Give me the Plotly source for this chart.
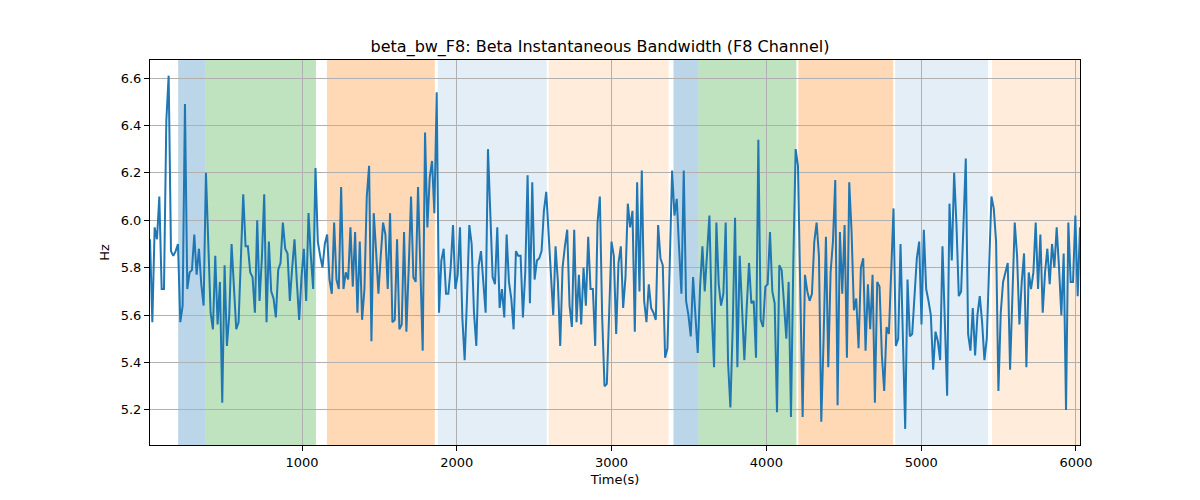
import numpy as np
import plotly.graph_objects as go

# ---- data ----
seg1 = [5.92, 5.57, 5.97, 5.92, 6.10, 5.71, 5.71, 6.42, 6.61, 5.87, 5.85, 5.87, 5.90, 5.57, 5.64, 6.49, 5.71,
        5.78, 5.79, 5.94, 5.77, 5.88, 5.73, 5.64, 6.20, 5.91, 5.61, 5.54, 5.85, 5.56, 5.74, 5.23, 5.81, 5.47,
        5.60, 5.90, 5.74, 5.54, 5.57, 5.83, 6.11, 5.89, 5.89, 5.78, 5.76, 5.61, 6.00, 5.66, 5.84, 6.11, 5.57]
seg2 = [5.91, 5.70, 5.67, 5.59, 5.79, 5.82, 5.99, 5.88, 5.86, 5.66, 5.80, 5.92, 5.74, 5.58, 5.76, 5.88, 5.66,
        6.03, 5.85, 5.71, 6.22, 5.91, 5.85, 5.80, 5.90, 5.94, 5.75, 5.69, 5.99, 5.75, 5.71, 6.14, 5.71, 5.78,
        5.75, 5.97, 5.72, 5.95, 5.61, 5.91, 5.58, 5.71, 6.10, 6.23, 5.49, 6.03, 5.87, 5.69, 5.85, 5.99]
seg3 = [5.94, 5.71, 6.03, 5.57, 5.58, 5.92, 5.54, 5.56, 5.95, 5.53, 5.80, 6.10, 5.76, 5.74, 6.14, 5.74, 5.45,
        6.37, 5.97, 6.18, 6.25, 6.03, 6.54, 5.61, 5.83, 5.88, 5.69, 5.69, 5.80, 5.98, 5.71, 5.77, 5.97, 5.59,
        5.41, 5.67, 5.98, 5.90, 5.61, 5.47, 5.81, 5.87, 5.74, 5.61, 6.30, 5.98, 5.76, 5.73, 5.97, 5.63]
seg4 = [5.71, 5.59, 5.94, 5.74, 5.67, 5.54, 5.87, 5.85, 5.85, 5.59, 5.78, 6.19, 5.65, 6.16, 5.75, 5.83, 5.84,
        5.87, 6.04, 6.12, 5.95, 5.74, 5.60, 5.89, 5.74, 5.47, 5.80, 5.89, 5.96, 5.64, 5.55, 5.96, 5.57, 5.77,
        5.56, 5.80, 5.64, 5.93, 5.71, 5.71, 5.47, 5.99, 6.10, 5.59, 5.30, 5.31, 5.63, 5.91, 5.85, 5.52]
seg5 = [5.82, 5.89, 5.63, 5.76, 6.07, 5.97, 6.04, 5.53, 6.16, 5.70, 6.21, 5.66, 5.57, 5.73, 5.63, 5.61, 5.58,
        5.98, 5.84, 5.81, 5.42, 5.46, 5.82, 6.21, 6.02, 6.09, 5.88, 5.69, 6.21, 5.66, 5.60, 5.51, 5.76, 5.61,
        5.44, 5.72, 5.89, 5.70, 5.85, 6.02, 5.61, 5.38, 5.99, 5.73, 5.64, 5.69, 5.99, 5.40, 5.21, 5.55]
seg6 = [6.01, 5.38, 5.85, 5.63, 5.41, 5.63, 5.82, 5.65, 5.66, 5.42, 6.34, 5.58, 5.55, 5.72, 5.73, 5.95, 5.70,
        5.65, 5.19, 5.81, 5.79, 5.65, 5.50, 5.74, 5.17, 5.82, 6.30, 6.23, 5.71, 5.17, 5.77, 5.70, 5.66, 5.69,
        5.91, 5.99, 5.85, 5.15, 5.50, 5.93, 5.38, 5.78, 5.91, 6.17, 5.22, 5.95, 5.69, 5.98, 5.42, 6.16]
seg7 = [5.95, 5.62, 5.67, 5.46, 5.80, 5.84, 5.45, 5.73, 5.54, 5.77, 5.23, 5.74, 5.72, 5.43, 5.28, 5.55, 5.52,
        5.77, 6.05, 5.47, 5.50, 5.90, 5.50, 5.12, 5.75, 5.51, 5.52, 5.71, 5.84, 5.91, 5.56, 5.96, 5.71, 5.66,
        5.60, 5.37, 5.53, 5.49, 5.41, 5.89, 5.57, 5.26, 6.07, 5.83, 6.20, 5.98, 5.68, 5.70, 5.98, 6.26, 5.52]
seg8 = [5.45, 5.63, 5.43, 5.60, 5.68, 5.57, 5.41, 5.50, 5.81, 6.10, 6.05, 5.91, 5.28, 5.61, 5.74, 5.78, 5.82,
        5.37, 5.69, 5.99, 5.85, 5.56, 5.74, 5.86, 5.38, 5.78, 5.71, 5.78, 5.99, 5.71, 5.94, 5.61, 5.78, 5.88,
        5.73, 5.90, 5.80, 5.97, 5.80, 5.60, 5.86, 5.20, 5.99, 5.74, 5.74, 6.02, 5.68, 5.97]

T_START = 18
T_END = 6026

band_starts = [200, 374, 1161, 1877, 2594, 3400, 3561, 4206, 4832, 5458]
band_ends = [374, 1090, 1858, 2581, 3368, 3561, 4194, 4819, 5432, 6026]
band_colors = ["rgba(31,119,180,0.3)", "rgba(44,160,44,0.3)", "rgba(255,127,14,0.3)",
               "rgba(31,119,180,0.12)", "rgba(255,127,14,0.15)",
               "rgba(31,119,180,0.3)", "rgba(44,160,44,0.3)", "rgba(255,127,14,0.3)",
               "rgba(31,119,180,0.12)", "rgba(255,127,14,0.15)"]

values = seg1 + seg2 + seg3 + seg4 + seg5 + seg6 + seg7 + seg8
t = np.linspace(T_START, T_END, len(values))

fig = go.Figure()
for s, e, c in zip(band_starts, band_ends, band_colors):
    fig.add_vrect(x0=s, x1=e, fillcolor=c, line_width=0, layer="below")

fig.add_trace(go.Scatter(x=t, y=values, mode="lines",
                         line=dict(color="#1f77b4", width=2), showlegend=False))

axis_common = dict(showgrid=True, gridcolor="#b0b0b0", gridwidth=0.8,
                   showline=True, linecolor="black", linewidth=1, mirror=True,
                   ticks="outside", ticklen=5, tickcolor="black", zeroline=False,
                   tickfont=dict(size=13, color="black"))

fig.update_layout(
    width=1200, height=500,
    margin=dict(l=150, r=120, t=60, b=55),
    paper_bgcolor="white", plot_bgcolor="white",
    font=dict(family="DejaVu Sans", color="black"),
    title=dict(text="beta_bw_F8: Beta Instantaneous Bandwidth (F8 Channel)",
               x=0.5, xanchor="center", y=0.908, yanchor="middle",
               font=dict(size=16, color="black")),
    xaxis=dict(range=[T_START, T_END], tickvals=[1000, 2000, 3000, 4000, 5000, 6000],
               title=dict(text="Time(s)", font=dict(size=13), standoff=6), **axis_common),
    yaxis=dict(range=[5.052, 6.676], tickvals=[5.2, 5.4, 5.6, 5.8, 6.0, 6.2, 6.4, 6.6],
               tickformat=".1f",
               title=dict(text="Hz", font=dict(size=13), standoff=8), **axis_common),
)

fig.write_html("out.html")
